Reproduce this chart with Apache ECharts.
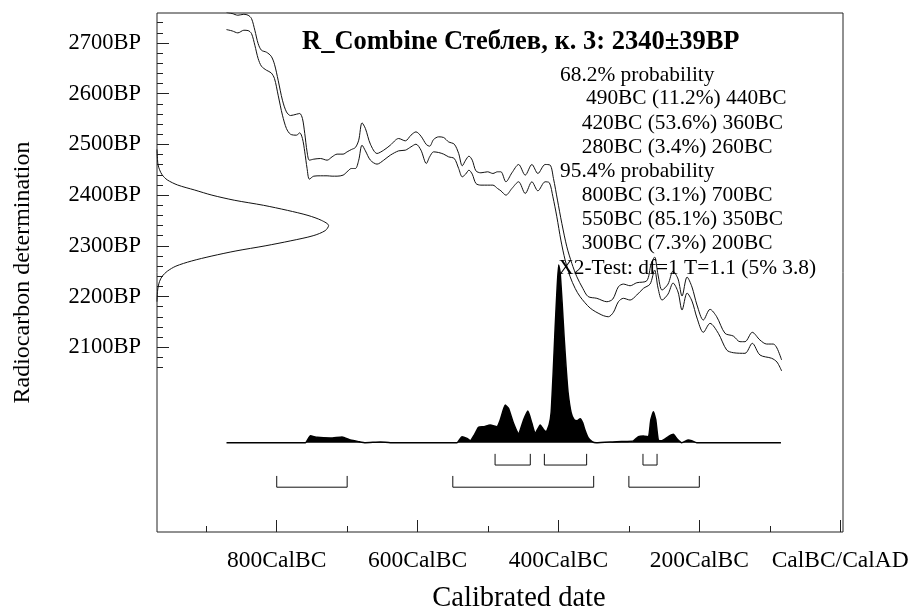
<!DOCTYPE html>
<html><head><meta charset="utf-8">
<script src="https://cdn.jsdelivr.net/npm/echarts@6/dist/echarts.min.js"></script>
<style>html,body{margin:0;padding:0;background:#fff}#c{width:916px;height:608px}</style>
</head><body><div id="c"></div>
<script>
// ---------- DATA ----------
const sampleName = 'R_Combine Стеблев, к. 3';
const sampleBP = 2340, sampleErr = 39;
const statText = 'X2-Test: df=1 T=1.1 (5% 3.8)';
const calTicks = [-800, -600, -400, -200, 0];
const calMinorTicks = [-900, -700, -500, -300, -100];
const bpTicks = [2100, 2200, 2300, 2400, 2500, 2600, 2700];
const bpMinorTicks = [2060, 2080, 2120, 2140, 2160, 2180, 2220, 2240, 2260, 2280, 2320, 2340, 2360, 2380,
  2420, 2440, 2460, 2480, 2520, 2540, 2560, 2580, 2620, 2640, 2660, 2680, 2720, 2740];
// ranges: [from BC, to BC, percent]
const ranges68 = [[490, 440, 11.2], [420, 360, 53.6], [280, 260, 3.4]];
const ranges95 = [[800, 700, 3.1], [550, 350, 85.1], [300, 200, 7.3]];
// calibration curve, +1 sigma line [year, BP]
const upperCurve = [[-871.3,2760],[-863.3,2758],[-855.2,2754.6],[-846.7,2756.5],[-840.6,2754.6],[-835.8,2748.0],
 [-831.1,2725.0],[-826.4,2698.7],[-821.7,2685.6],[-814.6,2681.7],[-807.9,2673.8],[-803.2,2658.0],[-798.0,2626.5],
 [-791.9,2587.1],[-786.2,2564.1],[-780.5,2556.9],[-772.0,2559.5],[-767.3,2560.9],[-763.5,2551.0],[-760.2,2521.5],
 [-756.9,2485.3],[-753.6,2468.9],[-747.4,2470.9],[-738.0,2472.2],[-728.5,2468.9],[-721.4,2475.5],[-714.3,2480.8],
 [-705.8,2480.8],[-700.1,2485.3],[-694.0,2489.9],[-688.3,2493.9],[-683.6,2508.3],[-678.9,2542.5],[-674.1,2531.3],
 [-667.0,2500.4],[-657.6,2482.1],[-648.1,2488.6],[-638.7,2498.5],[-626.9,2511.6],[-617.4,2507.0],[-609.4,2518.2],
 [-602.3,2524.7],[-595.2,2516.2],[-587.6,2499.8],[-582.9,2496.5],[-577.3,2509.6],[-570.1,2514.9],[-563.0,2513.6],
 [-556.0,2505.0],[-547.9,2500.4],[-541.7,2482.1],[-536.6,2457.8],[-531.8,2468.9],[-527.1,2476.8],[-522.4,2468.9],
 [-517.2,2447.9],[-510.1,2444.0],[-500.6,2446.0],[-493.1,2442.7],[-486.5,2446.0],[-481.7,2446.0],[-474.6,2426.3],
 [-466.1,2444.0],[-456.6,2460.4],[-447.2,2439.4],[-437.7,2460.4],[-429.2,2442.7],[-418.9,2460.4],[-411.8,2459.1],
 [-407.1,2432.9],[-401.4,2390.2],[-395.2,2344.3],[-388.1,2298.2],[-381.0,2265.5],[-373.9,2239.1],[-365.4,2216.2],
 [-357.9,2200.1],[-345.5,2196.6],[-331.3,2189.9],[-322.8,2195.2],[-314.9,2219.4],[-307.8,2224.7],[-298.3,2221.4],
 [-288.8,2227.3],[-274.6,2231.2],[-268.5,2264.1],[-263.5,2277.9],[-258.6,2242.5],[-252.9,2212.9],[-244.4,2224.7],
 [-237.3,2250.3],[-230.2,2234.6],[-224.5,2201.1],[-217.4,2238.5],[-210.4,2218.8],[-203.3,2183.4],[-194.3,2153.8],
 [-184.8,2174.9],[-175.3,2160.3],[-163.5,2127.6],[-151.8,2122.3],[-142.3,2111.1],[-135.2,2111.1],[-124.8,2129.6],
 [-113.9,2114.4],[-104.4,2106.5],[-95.0,2106.5],[-89.8,2098.7],[-83.1,2075.0]];
// calibration curve, -1 sigma line [year, BP]
const lowerCurve = [[-871.3,2726.3],[-863.3,2723.7],[-855.2,2719.8],[-846.7,2725.0],[-840.6,2724.3],[-835.8,2718.4],
 [-831.1,2695.5],[-826.4,2669.2],[-821.7,2654.1],[-814.6,2646.2],[-807.9,2641.0],[-803.2,2629.8],[-798.0,2597.0],
 [-791.9,2557.6],[-786.2,2531.3],[-780.5,2520.1],[-772.0,2518.2],[-767.3,2522.8],[-763.5,2511.6],[-760.2,2485.3],
 [-756.9,2452.5],[-753.6,2431.5],[-747.4,2437.4],[-738.0,2438.1],[-728.5,2438.1],[-721.4,2437.4],[-714.3,2437.4],
 [-705.8,2439.4],[-700.1,2446.0],[-694.0,2452.5],[-688.3,2452.5],[-683.6,2468.9],[-678.9,2498.5],[-674.1,2487.3],
 [-667.0,2468.9],[-657.6,2461.1],[-648.1,2468.9],[-638.7,2478.8],[-626.9,2487.3],[-617.4,2488.6],[-609.4,2495.2],
 [-602.3,2500.4],[-595.2,2488.6],[-587.6,2462.4],[-582.9,2475.5],[-577.3,2485.3],[-570.1,2484.0],[-563.0,2480.8],
 [-556.0,2475.5],[-547.9,2472.2],[-541.7,2452.5],[-536.6,2436.1],[-531.8,2441.4],[-527.1,2449.2],[-522.4,2441.4],
 [-517.2,2423.0],[-510.1,2419.7],[-500.6,2419.7],[-493.1,2419.7],[-486.5,2413.1],[-481.7,2408.5],[-474.6,2400.0],
 [-466.1,2413.1],[-456.6,2426.3],[-447.2,2403.3],[-437.7,2426.3],[-429.2,2408.5],[-418.9,2426.3],[-412.8,2424.2],
 [-407.9,2396.7],[-402.3,2357.3],[-396.6,2311.4],[-390.5,2272.0],[-383.4,2239.1],[-376.3,2216.2],[-369.2,2199.7],
 [-355.0,2177.4],[-338.4,2163.7],[-329.1,2160.3],[-322.0,2169.0],[-314.9,2189.9],[-307.8,2196.6],[-298.3,2193.2],
 [-288.8,2203.1],[-279.4,2216.2],[-269.9,2224.7],[-263.5,2252.3],[-258.6,2216.8],[-252.9,2193.2],[-244.4,2205.0],
 [-237.3,2226.7],[-230.2,2209.0],[-224.5,2173.5],[-217.4,2207.0],[-210.4,2191.2],[-203.3,2157.8],[-194.3,2129.6],
 [-184.8,2147.3],[-173.0,2127.6],[-161.1,2094.7],[-151.8,2089.4],[-135.2,2088.2],[-124.8,2107.9],[-113.9,2084.9],
 [-97.3,2078.4],[-89.8,2071.1],[-83.1,2053.4]];
// calibrated probability [year, relative probability]
const calProb = [[-871.3,0],[-759.3,0],[-752.2,0.039],[-742.7,0.030],[-723.8,0.026],[-707.2,0.032],[-695.4,0.015],
 [-683.7,0.006],[-674.2,0],[-652.9,0.004],[-638.7,0],[-544.1,0],[-537.0,0.034],[-529.9,0.024],[-525.2,0.011],
 [-519.6,0.043],[-513.5,0.086],[-506.4,0.090],[-496.9,0.100],[-487.4,0.090],[-482.7,0.128],[-475.6,0.212],
 [-470.9,0.193],[-463.8,0.109],[-456.7,0.052],[-449.6,0.128],[-443.4,0.178],[-437.7,0.109],[-433.0,0.052],
 [-425.9,0.100],[-421.0,0.073],[-417.4,0.062],[-413.2,0.101],[-410.4,0.169],[-407.5,0.394],[-404.7,0.647],
 [-401.9,0.872],[-399.7,1.0],[-397.6,0.957],[-394.8,0.788],[-391.9,0.591],[-389.1,0.422],[-386.3,0.281],
 [-382.0,0.169],[-377.8,0.129],[-373.5,0.124],[-369.2,0.135],[-365.7,0.113],[-362.1,0.068],[-357.9,0.028],
 [-352.2,0.006],[-346.5,0],[-317.2,0.006],[-303.0,0.007],[-293.6,0.010],[-286.5,0.034],[-279.4,0.038],
 [-272.3,0.034],[-268.9,0.128],[-265.2,0.174],[-261.8,0.128],[-258.2,0.015],[-253.3,0.011],[-244.0,0.034],
 [-236.9,0.047],[-232.1,0.024],[-225.0,0],[-215.6,0.015],[-210.8,0.011],[-203.7,0],[-84.1,0]];
// measured radiocarbon date distribution [relative probability, BP]
const dateProb = [[0,2490],[0.003,2470],[0.006,2460],[0.015,2450],[0.03,2440],[0.06,2430],[0.12,2420],[0.22,2410],
 [0.32,2400],[0.45,2390],[0.62,2380],[0.76,2370],[0.88,2360],[0.96,2350],[1.0,2340],[0.98,2330],[0.91,2320],
 [0.78,2310],[0.63,2300],[0.46,2290],[0.32,2280],[0.2,2270],[0.11,2260],[0.06,2250],[0.03,2240],[0.015,2230],
 [0.007,2220],[0.003,2210],[0,2190]];

// ---------- LAYOUT ----------
const FONT = "'Liberation Serif','Times New Roman',serif";
const G = {left: 157, top: 13, width: 686, height: 519};
const X_MIN = -970, X_MAX = 4, Y_MIN = 1736, Y_MAX = 2759;
const P_MIN = -0.5025, P_MAX = 2.418;   // probability axis (baseline position)
const row68 = {top: 1890, bot: 1868}, row95 = {top: 1846.5, bot: 1824.3};

function bracketSeries(ranges, row) {
  return ranges.map(r => ({
    type: 'line', xAxisIndex: 0, yAxisIndex: 0, symbol: 'none', silent: true,
    lineStyle: {color: '#111', width: 1},
    data: [[-r[0], row.top], [-r[0], row.bot], [-r[1], row.bot], [-r[1], row.top]]
  }));
}

const blockLines = ['68.2% probability']
  .concat(ranges68.map(r => `${r[0]}BC (${r[2]}%) ${r[1]}BC`))
  .concat(['95.4% probability'])
  .concat(ranges95.map(r => `${r[0]}BC (${r[2]}%) ${r[1]}BC`))
  .concat([statText]);
const blockX = [560, 586, 581.7, 581.7, 560, 581.7, 581.7, 581.7, 558.3];
const blockY = [75, 98.3, 123.3, 147.3, 171.7, 195, 219, 243.3, 268.3];

const graphic = [{
  type: 'text', x: 302, y: 41.7, z: 100,
  style: {text: `${sampleName}: ${sampleBP}±${sampleErr}BP`, font: `bold 26.5px ${FONT}`, fill: '#000', verticalAlign: 'middle'}
}].concat(blockLines.map((t, i) => ({
  type: 'text', x: blockX[i], y: blockY[i], z: 100,
  style: {text: t, font: `21.4px ${FONT}`, fill: '#000', verticalAlign: 'middle'}
})));

const noLine = {show: false, onZero: false};
const axisCommon = {splitLine: {show: false}};
const option = {
  backgroundColor: '#fff',
  animation: false,
  grid: Object.assign({show: true, borderColor: '#222', borderWidth: 1, backgroundColor: 'transparent',
    containLabel: false, outerBoundsMode: 'none'}, G),
  xAxis: [
    Object.assign({type: 'value', min: X_MIN, max: X_MAX, position: 'bottom',
      name: 'Calibrated date', nameLocation: 'middle', nameGap: 52,
      nameTextStyle: {fontFamily: FONT, fontSize: 28.5, color: '#000', padding: [0, 0, 0, 38]},
      axisLine: noLine,
      axisTick: {show: true, inside: true, length: 12, customValues: calTicks, lineStyle: {color: '#222'}},
      axisLabel: {show: true, customValues: calTicks, margin: 17, fontFamily: FONT, fontSize: 23.5, color: '#000',
        formatter: v => v === 0 ? 'CalBC/CalAD' : (v < 0 ? (-v) + 'CalBC' : v + 'CalAD')}}, axisCommon),
    Object.assign({type: 'value', min: X_MIN, max: X_MAX, position: 'bottom',
      axisLine: noLine, axisLabel: {show: false},
      axisTick: {show: true, inside: true, length: 6, customValues: calMinorTicks, lineStyle: {color: '#222'}}}, axisCommon),
    Object.assign({type: 'value', min: 0, max: G.width / 171.6, show: false, axisLine: noLine}, axisCommon)
  ],
  yAxis: [
    Object.assign({type: 'value', min: Y_MIN, max: Y_MAX, position: 'left',
      name: 'Radiocarbon determination', nameLocation: 'middle', nameGap: 122,
      nameTextStyle: {fontFamily: FONT, fontSize: 24, color: '#000'},
      axisLine: noLine,
      axisTick: {show: true, inside: true, length: 12, customValues: bpTicks, lineStyle: {color: '#222'}},
      axisLabel: {show: true, customValues: bpTicks, margin: 16, fontFamily: FONT, fontSize: 22.5, color: '#000',
        formatter: v => v + 'BP'}}, axisCommon),
    Object.assign({type: 'value', min: Y_MIN, max: Y_MAX, position: 'left',
      axisLine: noLine, axisLabel: {show: false},
      axisTick: {show: true, inside: true, length: 6, customValues: bpMinorTicks, lineStyle: {color: '#222'}}}, axisCommon),
    Object.assign({type: 'value', min: P_MIN, max: P_MAX, show: false, axisLine: noLine}, axisCommon)
  ],
  graphic: graphic,
  series: [
    {type: 'line', xAxisIndex: 0, yAxisIndex: 2, data: calProb, symbol: 'none', smooth: 0.15, silent: true,
      lineStyle: {color: '#000', width: 1.5}, areaStyle: {color: '#000', opacity: 1}},
    {type: 'line', xAxisIndex: 0, yAxisIndex: 0, data: upperCurve, symbol: 'none', smooth: 0.3, silent: true,
      lineStyle: {color: '#111', width: 1}},
    {type: 'line', xAxisIndex: 0, yAxisIndex: 0, data: lowerCurve, symbol: 'none', smooth: 0.3, silent: true,
      lineStyle: {color: '#111', width: 1}},
    {type: 'line', xAxisIndex: 2, yAxisIndex: 0, data: dateProb, symbol: 'none', smooth: 0.3, silent: true,
      lineStyle: {color: '#111', width: 1}}
  ].concat(bracketSeries(ranges68, row68)).concat(bracketSeries(ranges95, row95))
};
const chart = echarts.init(document.getElementById('c'), null, {renderer: 'canvas'});
chart.setOption(option);
</script>
</body></html>
